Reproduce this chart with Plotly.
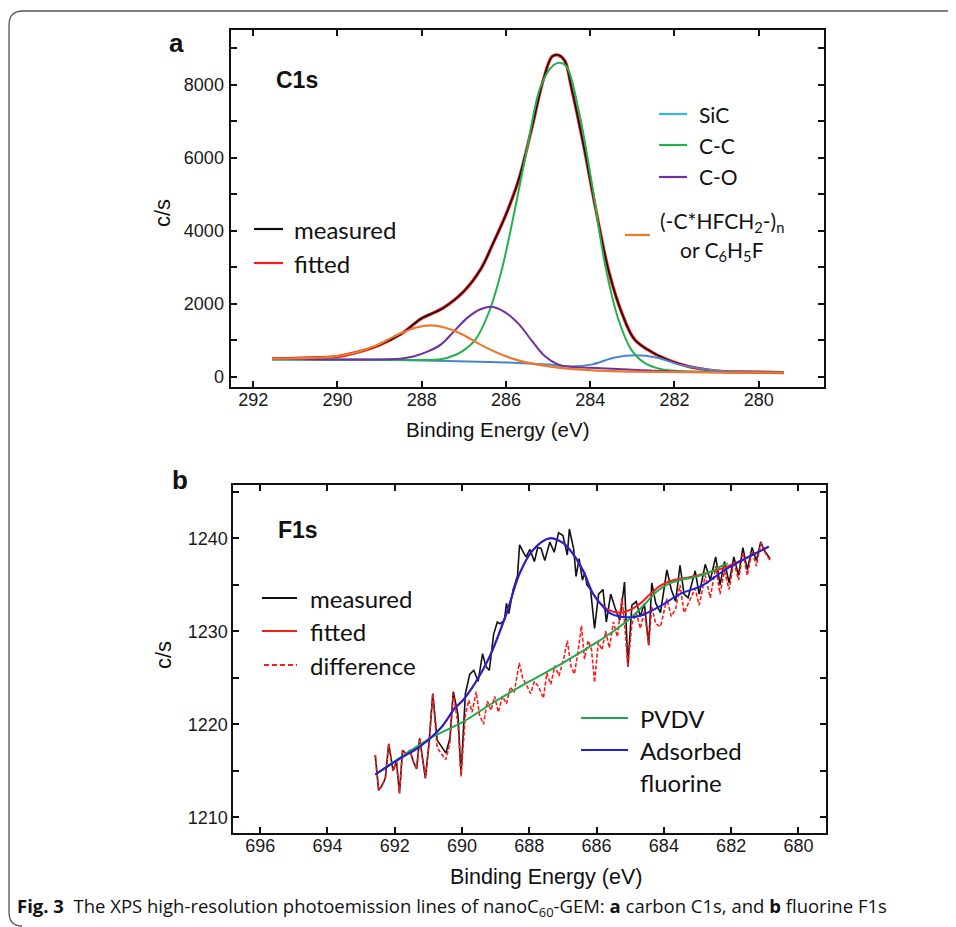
import plotly.graph_objects as go

# page body has an 8px margin: the figure is placed at (8, 8)
OFF = 8
W, H = 948, 919

# ---------------- Panel a : C1s ----------------
E_a_meas = [291.55, 291.0, 290.5, 290.0, 289.5, 289.0, 288.5, 288.0, 287.5, 287.0, 286.6, 286.3,
            286.0, 285.7, 285.4, 285.1, 284.9, 284.75, 284.6, 284.45, 284.15, 283.85, 283.55,
            283.25, 282.95, 282.5, 282.1, 281.7, 281.3, 280.9, 280.0, 279.4]
I_a_meas = [500, 510, 530, 560, 690, 880, 1170, 1610, 1880, 2350, 2950, 3680,
            4450, 5400, 6750, 8200, 8780, 8820, 8650, 7950, 6300, 4490, 2850,
            1760, 1030, 660, 440, 300, 210, 155, 135, 120]
I_a_fit = [500, 512, 528, 562, 688, 878, 1172, 1605, 1885, 2345, 2955, 3675,
           4455, 5395, 6755, 8195, 8785, 8815, 8655, 7945, 6305, 4485, 2855,
           1755, 1035, 655, 445, 298, 212, 153, 136, 119]

E_sic = [291.55, 290.0, 288.0, 286.0, 285.0, 284.46, 283.95, 283.44, 282.92, 282.41, 281.90,
         281.28, 280.87, 279.95]
I_sic = [485, 470, 455, 400, 340, 290, 346, 528, 595, 528, 346, 210, 164, 146]

E_cc = [291.55, 289.0, 288.0, 287.55, 287.3, 287.03, 286.72, 286.41, 286.10, 285.79, 285.49,
        285.18, 284.87, 284.72, 284.56, 284.26, 283.95, 283.64, 283.33, 283.03, 282.72,
        282.31, 281.9, 281.0, 279.4]
I_cc = [480, 470, 465, 483, 560, 710, 1030, 1760, 2940, 4580, 6310,
        7950, 8545, 8610, 8500, 7225, 5220, 3030, 1576, 756, 392,
        210, 164, 140, 120]

E_co = [291.55, 289.6, 288.46, 288.2, 287.85, 287.54, 287.23, 286.92, 286.62, 286.35, 286.0,
        285.69, 285.38, 285.08, 284.77, 284.46, 284.0, 283.0, 282.0, 279.4]
I_co = [500, 480, 510, 560, 700, 893, 1257, 1620, 1850, 1922, 1758,
        1440, 984, 574, 346, 280, 250, 200, 150, 120]

E_or = [291.55, 290.10, 289.59, 289.08, 288.56, 288.15, 287.79, 287.44, 287.03, 286.62,
        286.21, 285.79, 285.28, 284.77, 283.95, 282.92, 281.0, 279.4]
I_or = [500, 556, 665, 865, 1166, 1348, 1412, 1348, 1166, 893,
        665, 483, 346, 255, 182, 146, 125, 118]

xticks_a = [292, 290, 288, 286, 284, 282, 280]
yticks_a = [0, 2000, 4000, 6000, 8000]

# ---------------- Panel b : F1s ----------------
E_b_meas = [692.58, 692.48, 692.38, 692.28, 692.18, 692.05, 691.95, 691.86, 691.77, 691.65,
            691.55, 691.45, 691.35, 691.26, 691.09, 690.98, 690.87, 690.74, 690.61, 690.48,
            690.36, 690.26, 690.12, 690.03, 689.90, 689.77, 689.65, 689.52, 689.39, 689.29,
            689.19, 689.06, 688.95, 688.87, 688.74, 688.68, 688.61, 688.48, 688.35, 688.29,
            688.18, 688.10, 687.98, 687.85, 687.75, 687.65, 687.54, 687.39, 687.26, 687.13,
            687.00, 686.87, 686.81, 686.68, 686.61, 686.52, 686.42, 686.35, 686.29, 686.18,
            686.06, 685.94, 685.81, 685.71, 685.58, 685.45, 685.31, 685.17, 685.07, 684.95,
            684.82, 684.70, 684.58, 684.45, 684.36, 684.24, 684.10, 683.91, 683.78, 683.65,
            683.52, 683.40, 683.28, 683.07, 682.95, 682.77, 682.62, 682.46, 682.33, 682.20,
            682.06, 681.92, 681.78, 681.65, 681.52, 681.38, 681.25, 681.12, 681.00, 680.84]
I_b_meas = [1216.7, 1212.9, 1213.4, 1214.2, 1217.9, 1215.0, 1216.0, 1212.6, 1217.2, 1216.8,
            1217.2, 1216.0, 1215.2, 1218.5, 1214.2, 1218.0, 1223.3, 1218.3, 1217.6, 1216.9,
            1218.5, 1223.5, 1221.0, 1214.6, 1223.3, 1225.4, 1225.8, 1224.6, 1227.6, 1226.2,
            1225.8, 1229.7, 1231.0, 1230.8, 1231.2, 1233.0, 1231.9, 1234.5, 1236.0, 1239.3,
            1238.5, 1238.0, 1238.8, 1237.5, 1239.0, 1238.9, 1237.6, 1239.6, 1238.5, 1240.6,
            1240.3, 1238.2, 1241.0, 1238.8, 1235.9, 1237.8, 1235.5, 1236.3, 1235.0, 1234.5,
            1230.3, 1234.0, 1234.5, 1231.0, 1234.0, 1232.5, 1231.2, 1235.3, 1226.2, 1232.8,
            1233.2, 1231.6, 1233.0, 1228.5, 1235.2, 1233.0, 1232.0, 1236.6, 1234.5, 1233.2,
            1237.1, 1234.0, 1233.6, 1236.5, 1234.0, 1237.2, 1235.5, 1238.0, 1235.0, 1237.5,
            1235.2, 1238.0, 1236.0, 1239.0, 1236.6, 1239.0, 1237.6, 1239.6, 1238.6, 1237.8]

E_b_diff = [692.58, 692.48, 692.38, 692.28, 692.18, 692.05, 691.95, 691.86, 691.77, 691.65,
            691.55, 691.45, 691.35, 691.26, 691.09, 690.98, 690.87, 690.74, 690.61, 690.48,
            690.36, 690.26, 690.12, 690.03, 689.90, 689.80, 689.70, 689.58, 689.48, 689.36,
            689.25, 689.14, 689.03, 688.92, 688.80, 688.68, 688.56, 688.45, 688.30, 688.20,
            688.08, 687.96, 687.85, 687.72, 687.58, 687.48, 687.36, 687.24, 687.12, 686.98,
            686.87, 686.76, 686.66, 686.56, 686.45, 686.36, 686.25, 686.15, 686.06, 685.95,
            685.84, 685.73, 685.62, 685.50, 685.38, 685.25, 685.17, 685.07, 684.95, 684.82,
            684.70, 684.58, 684.45, 684.36, 684.24, 684.10, 683.91, 683.78, 683.65, 683.52,
            683.40, 683.28, 683.07, 682.95, 682.77, 682.62, 682.46, 682.33, 682.20, 682.06,
            681.92, 681.78, 681.65, 681.52, 681.38, 681.25, 681.12, 681.00, 680.84]
I_b_diff = [1216.7, 1212.9, 1213.4, 1214.2, 1217.9, 1215.0, 1216.0, 1212.6, 1217.2, 1216.8,
            1217.2, 1216.0, 1215.2, 1218.5, 1214.2, 1218.0, 1223.3, 1217.5, 1216.8, 1216.2,
            1218.0, 1223.3, 1220.0, 1214.4, 1221.0, 1222.6, 1221.3, 1223.5, 1221.0, 1220.0,
            1222.5, 1221.5, 1223.0, 1221.3, 1223.0, 1222.2, 1224.0, 1223.4, 1226.6, 1225.0,
            1224.2, 1223.3, 1224.6, 1224.0, 1222.8, 1225.5, 1224.3, 1226.3, 1225.2, 1227.0,
            1229.0, 1226.2, 1225.4, 1227.6, 1230.6, 1227.0, 1229.0, 1228.0, 1224.5, 1228.8,
            1228.0, 1230.0, 1228.2, 1231.0, 1229.4, 1233.6, 1231.0, 1226.2, 1230.8, 1232.0,
            1230.3, 1232.2, 1228.5, 1232.6, 1230.8, 1230.5, 1233.5, 1231.6, 1232.4, 1235.0,
            1232.0, 1233.0, 1234.6, 1232.8, 1236.0, 1233.6, 1237.0, 1234.0, 1236.5, 1234.5,
            1237.5, 1235.5, 1238.5, 1236.0, 1238.6, 1237.0, 1239.5, 1238.5, 1237.6]

E_b_fit = [692.58, 691.9, 691.26, 690.61, 690.22, 689.97, 689.6, 689.19, 688.68, 688.29,
           687.90, 687.39, 687.0, 686.74, 686.4, 686.10, 685.8, 685.58, 685.3, 685.0,
           684.7, 684.4, 684.1, 683.8, 683.4, 683.0, 682.6, 682.23, 681.59, 680.88]
I_b_fit = [1214.6, 1216.2, 1217.6, 1219.7, 1221.7, 1222.6, 1224.5, 1227.2, 1231.9, 1236.2,
           1238.7, 1240.0, 1239.5, 1238.5, 1236.5, 1234.0, 1232.7, 1232.2, 1232.0, 1232.3,
           1233.0, 1234.0, 1234.9, 1235.4, 1235.7, 1236.0, 1236.4, 1236.8, 1237.8, 1239.1]

E_pvdv = [692.58, 691.8, 690.9, 690.0, 689.0, 688.0, 687.0, 686.0, 685.5, 685.0, 684.6,
          684.2, 683.8, 683.4, 683.0, 682.6, 682.3, 682.1]
I_pvdv = [1214.6, 1216.5, 1218.6, 1220.2, 1222.5, 1224.6, 1226.6, 1228.8, 1230.0, 1231.4, 1232.8,
          1234.3, 1235.2, 1235.6, 1235.9, 1236.4, 1237.0, 1237.3]

E_ads = [692.58, 691.9, 691.26, 690.61, 690.22, 689.97, 689.6, 689.19, 688.68, 688.29, 687.90,
         687.39, 687.0, 686.74, 686.4, 686.10, 685.8, 685.58, 685.07, 684.68, 684.16, 683.52,
         682.87, 682.23, 681.59, 680.88]
I_ads = [1214.6, 1216.2, 1217.6, 1219.7, 1221.7, 1222.6, 1224.5, 1227.2, 1231.9, 1236.2, 1238.7,
         1240.0, 1239.5, 1238.5, 1236.5, 1234.0, 1232.6, 1231.9, 1231.5, 1231.7, 1232.6, 1234.0,
         1234.9, 1236.5, 1237.8, 1239.1]

xticks_b = [696, 694, 692, 690, 688, 686, 684, 682, 680]
yticks_b = [1210, 1220, 1230, 1240]

# colours
C_BLACK = "#111111"
C_RED = "#ff1a1a"
C_SIC = "#4a86c8"
C_SIC_LEG = "#33b3ef"
C_CC = "#22b14c"
C_CO = "#7030a0"
C_OR = "#ec7a2a"
C_PVDV = "#20a84a"
C_ADS = "#1c22e0"

def px(x):
    return (x - OFF) / W

def py(y):
    return 1 - (y - OFF) / H

fig = go.Figure()

# panel a traces
fig.add_trace(go.Scatter(x=E_a_meas, y=I_a_fit, mode="lines", line=dict(color=C_RED, width=3.2, shape="spline"),
                         xaxis="x", yaxis="y", showlegend=False))
fig.add_trace(go.Scatter(x=E_a_meas, y=I_a_meas, mode="lines", line=dict(color=C_BLACK, width=1.6, shape="spline"),
                         xaxis="x", yaxis="y", showlegend=False))
fig.add_trace(go.Scatter(x=E_sic, y=I_sic, mode="lines", line=dict(color=C_SIC, width=2, shape="spline"),
                         xaxis="x", yaxis="y", showlegend=False))
fig.add_trace(go.Scatter(x=E_cc, y=I_cc, mode="lines", line=dict(color=C_CC, width=2, shape="spline"),
                         xaxis="x", yaxis="y", showlegend=False))
fig.add_trace(go.Scatter(x=E_co, y=I_co, mode="lines", line=dict(color=C_CO, width=2, shape="spline"),
                         xaxis="x", yaxis="y", showlegend=False))
fig.add_trace(go.Scatter(x=E_or, y=I_or, mode="lines", line=dict(color=C_OR, width=2.2, shape="spline"),
                         xaxis="x", yaxis="y", showlegend=False))

# panel b traces
fig.add_trace(go.Scatter(x=E_b_meas, y=I_b_meas, mode="lines", line=dict(color=C_BLACK, width=1.6),
                         xaxis="x2", yaxis="y2", showlegend=False))
fig.add_trace(go.Scatter(x=E_b_diff, y=I_b_diff, mode="lines", line=dict(color=C_RED, width=1.6, dash="4px,2px"),
                         xaxis="x2", yaxis="y2", showlegend=False))
fig.add_trace(go.Scatter(x=E_b_fit, y=I_b_fit, mode="lines", line=dict(color=C_RED, width=2, shape="spline"),
                         xaxis="x2", yaxis="y2", showlegend=False))
fig.add_trace(go.Scatter(x=E_pvdv, y=I_pvdv, mode="lines", line=dict(color=C_PVDV, width=2, shape="spline"),
                         xaxis="x2", yaxis="y2", showlegend=False))
fig.add_trace(go.Scatter(x=E_ads, y=I_ads, mode="lines", line=dict(color=C_ADS, width=2, shape="spline"),
                         xaxis="x2", yaxis="y2", showlegend=False))

tickfont = dict(family="Liberation Sans, Arial, sans-serif", size=18, color="#1a1a1a")
common = dict(showline=True, linecolor="#111111", linewidth=2, mirror="ticks", ticks="inside",
              ticklen=6, tickwidth=1.5, tickcolor="#111111", showgrid=False, zeroline=False,
              tickfont=tickfont, fixedrange=True)

fig.update_layout(
    width=W, height=H, margin=dict(l=0, r=0, t=0, b=0),
    paper_bgcolor="white", plot_bgcolor="white", showlegend=False,
    xaxis=dict(domain=[px(230.5), px(824)], range=[292.54, 278.45], anchor="y",
               tickvals=xticks_a, ticklabelstandoff=-4, **common),
    yaxis=dict(domain=[py(386.7), py(29.5)], range=[-266, 9520], anchor="x",
               tickvals=yticks_a, ticklabelstandoff=1,
               minor=dict(dtick=1000, tick0=0, ticks="inside", ticklen=6, tickwidth=1.5, tickcolor="#111111"),
               **common),
    xaxis2=dict(domain=[px(233.3), px(826)], range=[696.80, 679.18], anchor="y2",
                tickvals=xticks_b, ticklabelstandoff=-4, **common),
    yaxis2=dict(domain=[py(832.7), py(485)], range=[1208.34, 1245.73], anchor="x2",
                tickvals=yticks_b, ticklabelstandoff=0,
                minor=dict(dtick=5, tick0=1210, ticks="inside", ticklen=6, tickwidth=1.5, tickcolor="#111111"),
                **common),
)

ann = []
def text(x, y, s, size, family="Liberation Sans, Arial, sans-serif", anchor="left", color="#111111", angle=0):
    ann.append(dict(x=px(x), y=py(y), xref="paper", yref="paper", text=s, showarrow=False,
                    xanchor=anchor, yanchor="middle", textangle=angle,
                    font=dict(family=family, size=size, color=color)))

LEG = "Lato, Open Sans, sans-serif"

# panel labels and titles
text(176, 43, "<b>a</b>", 26, anchor="center")
text(180, 480, "<b>b</b>", 26, anchor="center")
text(297, 80, "<b>C1s</b>", 23, anchor="center")
text(298, 530, "<b>F1s</b>", 23, anchor="center")
text(163, 213, "c/s", 22, anchor="center", angle=-90)
text(163, 655, "c/s", 22, anchor="center", angle=-90)
text(497, 429, "Binding Energy (eV)", 20.5, anchor="center")
text(546, 877, "Binding Energy (eV)", 21.5, anchor="center")

# legend texts panel a
text(292, 229, "measured", 24, family=LEG)
text(292, 263, "fitted", 24, family=LEG)
text(697, 114, "SiC", 21, family=LEG)
text(697, 145, "C-C", 21, family=LEG)
text(697, 177, "C-O", 21, family=LEG)
text(722, 222, "(-C*HFCH<sub>2</sub>-)<sub>n</sub>", 21, family=LEG, anchor="center")
text(722, 251, "or C<sub>6</sub>H<sub>5</sub>F", 21, family=LEG, anchor="center")

# legend texts panel b
text(308, 598, "measured", 24, family=LEG)
text(308, 631, "fitted", 24, family=LEG)
text(308, 665, "difference", 24, family=LEG)
text(638, 718, "PVDV", 24, family=LEG)
text(638, 750, "Adsorbed", 24, family=LEG)
text(638, 782, "fluorine", 24, family=LEG)

# caption
text(15, 907, "<b>Fig. 3</b>  The XPS high-resolution photoemission lines of nanoC<sub>60</sub>-GEM: "
              "<b>a</b> carbon C1s, and <b>b</b> fluorine F1s", 18.5, family="Open Sans, Noto Sans, sans-serif")

fig.update_layout(annotations=ann)

shapes = []
def seg(x0, x1, y, color, dash="solid", width=2.2):
    shapes.append(dict(type="line", xref="paper", yref="paper", x0=px(x0), x1=px(x1), y0=py(y), y1=py(y),
                       line=dict(color=color, width=width, dash=dash)))

seg(254, 283, 229, C_BLACK)
seg(254, 283, 263, C_RED)
seg(659, 687, 114, C_SIC_LEG)
seg(659, 687, 145, C_CC)
seg(659, 687, 177, C_CO)
seg(625, 650, 235, C_OR)

seg(262, 297, 598, C_BLACK)
seg(262, 297, 631, C_RED)
seg(264, 297, 665, C_RED, dash="5px,3px")
seg(581, 628, 718, C_PVDV)
seg(581, 628, 750, C_ADS)

# outer rounded frame of the figure
path = (f"M {px(960)},{py(11)} L {px(23)},{py(11)} Q {px(9)},{py(11)} {px(9)},{py(25)} "
        f"L {px(9)},{py(912)} Q {px(9)},{py(926)} {px(22)},{py(926)}")
shapes.append(dict(type="path", xref="paper", yref="paper", path=path,
                   line=dict(color="#555555", width=1.3)))

fig.update_layout(shapes=shapes)

fig.write_html("out.html")
